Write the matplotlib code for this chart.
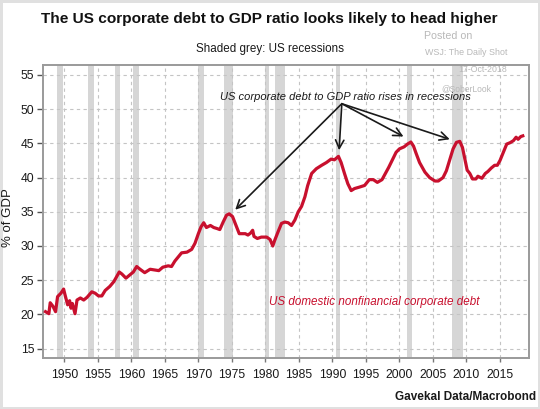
import matplotlib
matplotlib.use("Agg")
import matplotlib.pyplot as plt

FAM = ['Liberation Sans', 'DejaVu Sans']

years = [1947.2, 1947.7, 1947.9, 1948.3, 1948.7, 1949.0, 1949.5, 1949.9, 1950.1, 1950.5,
         1950.8, 1951.0, 1951.2, 1951.6, 1951.9, 1952.4, 1952.9, 1953.4, 1954.1, 1954.6,
         1955.1, 1955.6, 1956.1, 1956.8, 1957.4, 1958.2, 1958.6, 1959.2, 1959.8, 1960.3,
         1960.8, 1961.3, 1962.0, 1962.8, 1963.5, 1964.1, 1964.7, 1965.5, 1966.0, 1966.5,
         1967.0, 1967.5, 1968.3, 1969.0, 1969.5, 1970.0, 1970.4, 1970.8, 1971.2, 1971.8,
         1972.3, 1972.8, 1973.2, 1973.7, 1974.2, 1974.6, 1975.1, 1975.5, 1976.1, 1977.0,
         1977.4, 1977.8, 1978.1, 1978.3, 1978.8, 1979.4, 1980.2, 1980.7, 1981.1, 1981.4,
         1981.9, 1982.4, 1982.9, 1983.4, 1983.9, 1984.4, 1984.9, 1985.4, 1985.9, 1986.3,
         1986.9, 1987.6, 1988.4, 1989.1, 1989.8, 1990.3, 1990.9, 1991.3, 1991.8, 1992.3,
         1992.8, 1993.3, 1994.0, 1994.8, 1995.5, 1996.1, 1996.7, 1997.4, 1997.9, 1998.4,
         1999.0, 1999.5, 2000.0, 2000.7, 2001.2, 2001.7, 2002.1, 2002.5, 2003.0, 2003.8,
         2004.5, 2005.3, 2005.8, 2006.5, 2007.0, 2007.5, 2008.0, 2008.5, 2009.0, 2009.4,
         2009.8, 2010.1, 2010.5, 2010.9, 2011.4, 2011.7, 2012.3, 2012.8, 2013.2, 2013.7,
         2014.2, 2014.6, 2015.0, 2015.5, 2016.0, 2016.5, 2017.0, 2017.4, 2017.7, 2018.1,
         2018.4]
debt_pct_gdp = [20.4, 20.1, 21.7, 21.2, 20.4, 22.6, 23.1, 23.7, 22.9, 21.4,
                22.0, 20.9, 21.6, 20.1, 22.1, 22.4, 22.1, 22.5, 23.3, 23.1,
                22.7, 22.7, 23.5, 24.1, 24.8, 26.2, 25.9, 25.3, 25.8, 26.2,
                27.0, 26.6, 26.1, 26.6, 26.5, 26.4, 26.9, 27.1, 27.0, 27.8,
                28.4, 29.0, 29.1, 29.5, 30.4, 31.8, 32.8, 33.4, 32.7, 33.0,
                32.7, 32.55, 32.4, 33.5, 34.5, 34.7, 34.3, 33.3, 31.8, 31.8,
                31.6, 31.9, 32.3, 31.4, 31.1, 31.3, 31.3, 30.95, 30.0, 30.85,
                32.1, 33.3, 33.5, 33.4, 33.0, 33.8, 35.0, 35.8, 37.2, 38.8,
                40.6, 41.3, 41.8, 42.2, 42.7, 42.6, 43.1, 42.2, 40.6, 39.1,
                38.1, 38.4, 38.6, 38.85, 39.7, 39.7, 39.3, 39.7, 40.6, 41.5,
                42.7, 43.7, 44.2, 44.5, 44.9, 45.2, 44.6, 43.5, 42.2, 40.8,
                40.0, 39.5, 39.5, 40.0, 41.0, 42.6, 44.2, 45.15, 45.3, 44.4,
                42.5, 41.1, 40.6, 39.8, 39.8, 40.2, 39.9, 40.6, 40.9, 41.4,
                41.8, 41.8, 42.5, 43.7, 44.9, 45.1, 45.4, 45.9, 45.6, 46.0,
                46.1]

recession_start = [1948.9, 1953.5, 1957.6, 1960.3, 1969.9, 1973.9, 1980.0, 1981.5, 1990.5, 2001.2, 2007.9]
recession_end = [1949.8, 1954.4, 1958.3, 1961.1, 1970.9, 1975.2, 1980.5, 1982.9, 1991.2, 2001.9, 2009.5]

x_ticks = [1950, 1955, 1960, 1965, 1970, 1975, 1980, 1985, 1990, 1995, 2000, 2005, 2010, 2015]
y_ticks = [15, 20, 25, 30, 35, 40, 45, 50, 55]

arrow_apex = (1991.4, 50.8)
arrow_targets = [(1975.5, 35.3), (1991.0, 44.0), (2000.6, 46.0), (2007.5, 45.6)]

RED = '#c8102e'
INK = '#1a1a1a'

fig = plt.figure(figsize=(5.40, 4.09), dpi=100)
fig.patch.set_facecolor('white')
fig.patch.set_edgecolor('#e0e0e0')
fig.patch.set_linewidth(2.5)
W, H = 540.0, 409.0
ax = fig.add_axes([42.7 / W, 1 - 357.7 / H, (529.3 - 42.7) / W, (357.7 - 65) / H])

for s, e in zip(recession_start, recession_end):
    ax.axvspan(s, e, color='#d6d6d6', lw=0, zorder=0)

ax.plot(years, debt_pct_gdp, color=RED, lw=2.3, zorder=3, solid_joinstyle='round')

ax.set_xlim(1946.78, 2019.37)
ax.set_ylim(13.67, 56.46)
ax.set_xticks(x_ticks)
ax.set_yticks(y_ticks)
ax.grid(True, color='#c4c4c4', ls=(0, (3, 3)), lw=0.8, zorder=1)
ax.set_axisbelow(True)
for sp in ax.spines.values():
    sp.set_color('#9a9a9a')
    sp.set_linewidth(1.4)
ax.tick_params(axis='x', length=3, width=1, color='#777777', pad=5, labelsize=8.7, labelcolor=INK)
ax.tick_params(axis='y', length=4, width=1, color='#555555', pad=2, labelsize=8.7, labelcolor=INK)
for lab in ax.get_xticklabels() + ax.get_yticklabels():
    lab.set_family(FAM)

for tx, ty in arrow_targets:
    ax.annotate('', xy=(tx, ty), xytext=arrow_apex,
                arrowprops=dict(arrowstyle='->', color=INK, lw=1.2,
                                mutation_scale=15, shrinkA=0, shrinkB=0), zorder=4)

renderer = fig.canvas.get_renderer()


def fit(t, target_px):
    w = t.get_window_extent(renderer).width
    t.set_fontsize(t.get_fontsize() * target_px / w)
    return t


def ftext(xpx, ypx, s, width, **kw):
    t = fig.text(xpx / W, 1 - ypx / H, s, family=FAM, va='center', **kw)
    return fit(t, width)


ftext(269.5, 19, 'The US corporate debt to GDP ratio looks likely to head higher', 455,
      weight='bold', fontsize=12, ha='center', color='#111111')
ftext(270, 49, 'Shaded grey: US recessions', 148, fontsize=9, ha='center', color=INK)
ftext(536, 396.7, 'Gavekal Data/Macrobond', 141, weight='bold', fontsize=9, ha='right', color=INK)
ftext(345, 97.5, 'US corporate debt to GDP ratio rises in recessions', 250,
      style='italic', fontsize=9, ha='center', color=INK, zorder=5)
ftext(374, 301.7, 'US domestic nonfinancial corporate debt', 210,
      style='italic', fontsize=9, ha='center', color=RED, zorder=5)

t = fig.text(8.5 / W, 1 - 218 / H, '% of GDP', family=FAM, rotation=90,
             ha='center', va='center', fontsize=9, color=INK)
h = t.get_window_extent(renderer).height
t.set_fontsize(9 * 59 / h)

wm = '#b8b8b8'
ftext(448.5, 36, 'Posted on', 48, fontsize=7, ha='center', color=wm)
ftext(466, 52.7, 'WSJ: The Daily Shot', 82, fontsize=7, ha='center', color=wm)
ftext(507, 69, '17-Oct-2018', 49, fontsize=7, ha='right', color=wm)
ftext(491, 89, '@SoberLook', 50, fontsize=7, ha='right', color=wm, zorder=0)

fig.savefig('out.png', dpi=100)
